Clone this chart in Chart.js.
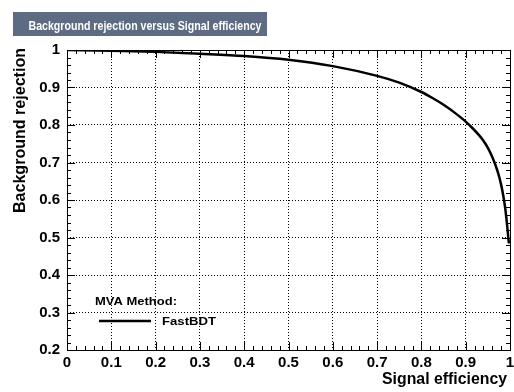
<!DOCTYPE html>
<html>
<head>
<meta charset="utf-8">
<script src="https://cdn.jsdelivr.net/npm/chart.js@4/dist/chart.umd.min.js"></script>
<style>
  html, body { margin: 0; padding: 0; background: #fff; }
  #wrap { width: 514px; height: 392px; position: relative; }
</style>
</head>
<body>
<div id="wrap"><canvas id="roc"></canvas></div>
<script>
// ROC curve
var sigEff = [0, 0.1, 0.2, 0.3, 0.4, 0.5, 0.6, 0.7, 0.75, 0.8, 0.825, 0.85, 0.875, 0.9, 0.915, 0.93, 0.94, 0.95, 0.958, 0.965, 0.971, 0.976, 0.981, 0.985, 0.989, 0.992, 0.995, 0.997, 0.998];
var bkgRej = [1.0, 0.998, 0.995, 0.99, 0.984, 0.974, 0.957, 0.931, 0.913, 0.888, 0.872, 0.854, 0.833, 0.809, 0.792, 0.773, 0.758, 0.739, 0.72, 0.70, 0.68, 0.66, 0.635, 0.61, 0.58, 0.55, 0.515, 0.49, 0.484];
var xTicks = [0, 0.1, 0.2, 0.3, 0.4, 0.5, 0.6, 0.7, 0.8, 0.9, 1];
var yTicks = [0.2, 0.3, 0.4, 0.5, 0.6, 0.7, 0.8, 0.9, 1];
var methodName = 'FastBDT';

var FONT = 'Liberation Sans, Arial, Helvetica, sans-serif';
var points = sigEff.map(function (x, i) { return { x: x, y: bkgRej[i] }; });

// text squeezed/stretched to the width seen in the picture
function fitText(c, txt, x, y, w) {
  var m = c.measureText(txt).width;
  c.save();
  c.translate(x, y);
  c.scale(w / m, 1);
  c.fillText(txt, 0, 0);
  c.restore();
}

// frame, inside ticks, title box, legend
var rootStyle = {
  id: 'rootStyle',
  afterDatasetsDraw: function (chart) {
    var c = chart.ctx, a = chart.chartArea;
    var xs = chart.scales.x, ys = chart.scales.y;
    c.save();
    c.strokeStyle = '#000';
    c.lineWidth = 1;
    c.strokeRect(Math.round(a.left) + 0.5, Math.round(a.top) + 0.5, Math.round(a.right - a.left), Math.round(a.bottom - a.top));
    c.beginPath();
    for (var i = 0; i <= 50; i++) {
      var px = Math.round(xs.getPixelForValue(i / 50)) + 0.5;
      var len = (i % 5 === 0) ? 8 : 4;
      c.moveTo(px, a.bottom); c.lineTo(px, a.bottom - len);
      c.moveTo(px, a.top); c.lineTo(px, a.top + len);
    }
    for (var j = 0; j <= 40; j++) {
      var py = Math.round(ys.getPixelForValue(0.2 + j * 0.02)) + 0.5;
      var l2 = (j % 5 === 0) ? 8 : 4;
      c.moveTo(a.left, py); c.lineTo(a.left + l2, py);
      c.moveTo(a.right, py); c.lineTo(a.right - l2, py);
    }
    c.stroke();

    // title box
    c.fillStyle = '#5d6c82';
    c.fillRect(13, 12, 254, 24);
    c.fillStyle = '#fff';
    c.font = 'bold 13px ' + FONT;
    c.textBaseline = 'alphabetic';
    c.textAlign = 'left';
    fitText(c, 'Background rejection versus Signal efficiency', 28.5, 29.5, 233);

    // legend
    c.fillStyle = '#000';
    c.font = 'bold 11px ' + FONT;
    fitText(c, 'MVA Method:', 95, 304.5, 82);
    fitText(c, methodName, 162, 324.5, 54);
    c.lineWidth = 2.5;
    c.beginPath();
    c.moveTo(99, 321); c.lineTo(151, 321);
    c.stroke();

    // axis titles
    c.font = 'bold 16px ' + FONT;
    fitText(c, 'Signal efficiency', 382, 383.5, 125);
    c.translate(25, 213);
    c.rotate(-Math.PI / 2);
    fitText(c, 'Background rejection', 0, 0, 165);
    c.restore();
  }
};

new Chart(document.getElementById('roc'), {
  type: 'line',
  data: {
    datasets: [{
      label: methodName,
      data: points,
      borderColor: '#000',
      borderWidth: 2.5,
      pointRadius: 0,
      cubicInterpolationMode: 'monotone',
      fill: false
    }]
  },
  options: {
    responsive: true,
    maintainAspectRatio: false,
    animation: false,
    layout: { padding: { left: 0, right: 4, top: 50, bottom: 0 } },
    plugins: { legend: { display: false }, tooltip: { enabled: false } },
    scales: {
      x: {
        type: 'linear', min: 0, max: 1,
        afterFit: function (s) { s.height = 42; s.paddingLeft = 0; s.paddingRight = 0; },
        afterBuildTicks: function (s) { s.ticks = xTicks.map(function (v) { return { value: v }; }); },
        grid: { color: '#000', lineWidth: 1, drawTicks: false },
        border: { display: false, dash: [1, 2] },
        ticks: {
          color: '#000', padding: 4, maxRotation: 0,
          font: { family: FONT, size: 15, weight: 'bold' },
          callback: function (v) { return String(v); }
        }
      },
      y: {
        type: 'linear', min: 0.2, max: 1,
        afterFit: function (s) { s.width = 67; s.paddingTop = 0; s.paddingBottom = 0; },
        afterBuildTicks: function (s) { s.ticks = yTicks.map(function (v) { return { value: v }; }); },
        grid: { color: '#000', lineWidth: 1, drawTicks: false },
        border: { display: false, dash: [1, 2] },
        ticks: {
          color: '#000', padding: 7,
          font: { family: FONT, size: 15, weight: 'bold' },
          callback: function (v) { return String(v); }
        }
      }
    }
  },
  plugins: [rootStyle]
});
</script>
</body>
</html>
